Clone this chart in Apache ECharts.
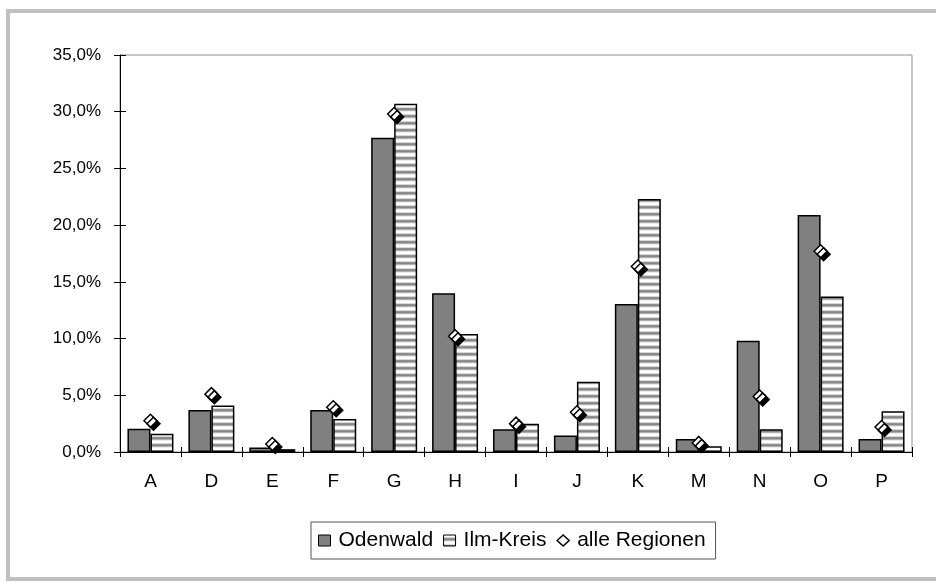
<!DOCTYPE html>
<html>
<head>
<meta charset="utf-8">
<script src="https://cdn.jsdelivr.net/npm/echarts@6/dist/echarts.min.js"></script>
<style>
html,body{margin:0;padding:0;background:#fff;overflow:hidden;}
#c{position:absolute;left:0;top:0;width:936px;height:583px;}
#frame{position:absolute;left:6px;top:9px;width:1000px;height:564px;border:4px solid #c0c0c0;pointer-events:none;}
</style>
</head>
<body>
<div id="c"></div>
<div id="frame"></div>
<script>
const categories = ['A','D','E','F','G','H','I','J','K','M','N','O','P'];
const odenwald = [2.05, 3.7, 0.4, 3.7, 27.7, 14.0, 2.0, 1.45, 13.05, 1.15, 9.8, 20.9, 1.15];
const ilmKreis = [1.6, 4.1, 0.25, 2.9, 30.7, 10.4, 2.5, 6.2, 22.3, 0.5, 2.0, 13.7, 3.6];
const alleRegionen = [2.75, 5.1, 0.7, 3.95, 29.8, 10.2, 2.5, 3.5, 16.35, 0.8, 4.9, 17.7, 2.2];
const seriesNames = ['Odenwald', 'Ilm-Kreis', 'alle Regionen'];

// stripe pattern
const pc = document.createElement('canvas');
pc.width = 8; pc.height = 7;
const pctx = pc.getContext('2d');
const rows = ['#ffffff','#ffffff','#d8d8d8','#909090','#888888','#b0b0b0','#eeeeee'];
rows.forEach((c,i)=>{pctx.fillStyle=c;pctx.fillRect(0,i,8,1);});
const stripe = {image: pc, repeat: 'repeat'};

const font = 'Liberation Sans, Arial, sans-serif';
const chart = echarts.init(document.getElementById('c'), null, {renderer:'canvas'});
const fmt = v => v.toFixed(1).replace('.', ',') + '%';

chart.setOption({
  animation: false,
  backgroundColor: 'transparent',
  grid: {left: 120, right: 24, top: 55, bottom: 131, show: true, borderColor: '#909090', borderWidth: 1},
  legend: {
    left: 311, top: 522,
    padding: [8, 10, 8, 7],
    borderColor: '#555', borderWidth: 1,
    itemWidth: 12, itemHeight: 11, itemGap: 10,
    textStyle: {fontFamily: font, fontSize: 21, color: '#000', padding: [0,0,0,3]},
    data: [
      {name: seriesNames[0], icon: 'rect', itemStyle: {color: '#808080', borderColor: '#000', borderWidth: 1}},
      {name: seriesNames[1], icon: 'rect', itemStyle: {color: stripe, borderColor: '#000', borderWidth: 1}},
      {name: seriesNames[2], icon: 'diamond', itemStyle: {color: '#fff', borderColor: '#000', borderWidth: 1.5, shadowBlur: 0, shadowOffsetX: 0, shadowOffsetY: 0, shadowColor: 'transparent'}}
    ]
  },
  xAxis: [{
    type: 'category', data: categories, position: 'bottom',
    axisLine: {lineStyle: {color: '#000', width: 1}},
    axisTick: {show: true, inside: false, length: 5, lineStyle: {color: '#000'}},
    axisLabel: {fontFamily: font, fontSize: 19, color: '#000', margin: 30, verticalAlign: 'middle'},
    splitLine: {show: false}
  }, {
    type: 'category', data: categories, position: 'bottom', gridIndex: 0,
    axisLine: {show: false},
    axisTick: {show: true, inside: true, length: 5, lineStyle: {color: '#000'}},
    axisLabel: {show: false}, splitLine: {show: false}
  }],
  yAxis: [{
    type: 'value', min: 0, max: 35, interval: 5, position: 'left',
    axisLine: {show: true, lineStyle: {color: '#000', width: 1}},
    axisTick: {show: true, inside: false, length: 6, lineStyle: {color: '#000'}},
    axisLabel: {fontFamily: font, fontSize: 17, color: '#000', margin: 19, formatter: fmt},
    splitLine: {show: false}
  }, {
    type: 'value', min: 0, max: 35, interval: 5, position: 'left',
    axisLine: {show: false},
    axisTick: {show: true, inside: true, length: 6, lineStyle: {color: '#000'}},
    axisLabel: {show: false}, splitLine: {show: false}
  }],
  series: [
    {name: seriesNames[0], type: 'bar', data: odenwald, barWidth: 23, barGap: '0%',
     itemStyle: {color: '#808080', borderColor: '#000', borderWidth: 1.5}},
    {name: seriesNames[1], type: 'bar', data: ilmKreis, barWidth: 23, barGap: '0%',
     itemStyle: {color: stripe, borderColor: '#000', borderWidth: 1.5}},
    {name: seriesNames[2], type: 'scatter', data: alleRegionen, symbol: 'diamond', symbolSize: 13, z: 5,
     itemStyle: {color: '#fff', borderColor: '#000', borderWidth: 1.5, opacity: 1,
       shadowColor: '#000', shadowBlur: 0, shadowOffsetX: 3, shadowOffsetY: 3}}
  ]
});
</script>
</body>
</html>
